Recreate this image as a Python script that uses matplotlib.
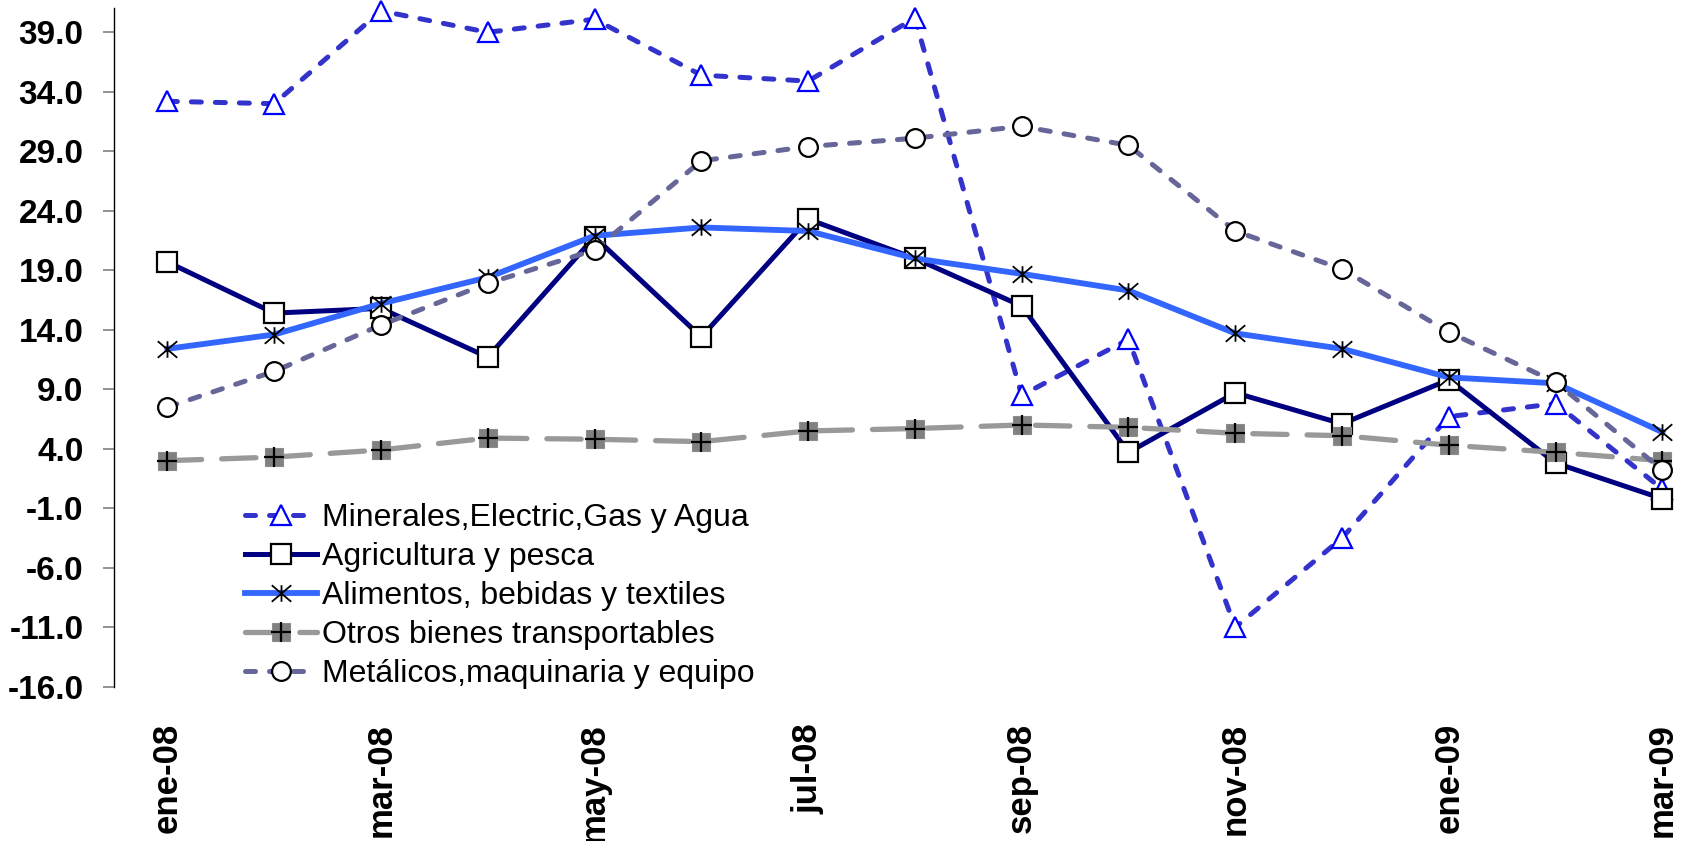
import matplotlib
matplotlib.use("Agg")
import matplotlib.pyplot as plt
from matplotlib.path import Path
from matplotlib.ticker import FormatStrFormatter

# meses (se rotulan uno si, uno no)
meses = ['ene-08', 'feb-08', 'mar-08', 'abr-08', 'may-08', 'jun-08', 'jul-08', 'ago-08',
         'sep-08', 'oct-08', 'nov-08', 'dic-08', 'ene-09', 'feb-09', 'mar-09']

minerales = [33.2, 33.0, 40.8, 39.0, 40.1, 35.4, 34.9, 40.2, 8.5, 13.2, -11.0, -3.5, 6.7, 7.8, 0.6]
agricultura = [19.7, 15.4, 15.8, 11.7, 21.8, 13.4, 23.3, 20.0, 16.0, 3.7, 8.7, 6.1, 9.8, 2.8, -0.2]
alimentos = [12.4, 13.6, 16.2, 18.4, 21.9, 22.6, 22.3, 20.0, 18.7, 17.3, 13.7, 12.4, 10.0, 9.5, 5.4]
otros = [3.0, 3.3, 3.9, 4.9, 4.8, 4.6, 5.5, 5.7, 6.0, 5.8, 5.3, 5.1, 4.3, 3.7, 3.0]
metalicos = [7.5, 10.5, 14.4, 17.9, 20.7, 28.2, 29.4, 30.1, 31.1, 29.5, 22.3, 19.1, 13.8, 9.6, 2.2]

nombres = ['Minerales,Electric,Gas y Agua', 'Agricultura y pesca', 'Alimentos, bebidas y textiles',
           'Otros bienes transportables', 'Metálicos,maquinaria y equipo']

x = list(range(len(meses)))

# marcador tipo asterisco (X con barra vertical), como el de Excel
asterisco = Path([(0, -0.85), (0, 0.85), (-1, -0.85), (1, 0.85), (-1, 0.85), (1, -0.85)],
                 [Path.MOVETO, Path.LINETO] * 3)

fig = plt.figure(figsize=(16.88, 8.41), dpi=100)
ax = fig.add_axes([0.0675, 0.1834, 0.949, 0.8065])

l1, = ax.plot(x, minerales, color='#3333CC', lw=3.6, linestyle=(0, (2.0, 2.8)),
              dash_capstyle='round', marker='^', ms=14, mfc='white', mec='#0000FF', mew=1.6,
              clip_on=False, zorder=3)
l2, = ax.plot(x, agricultura, color='#000080', lw=3.6, marker='s', ms=14, mfc='white',
              mec='black', mew=1.6, clip_on=False, zorder=3)
l3, = ax.plot(x, alimentos, color='#3366FF', lw=4.2, marker=asterisco, ms=14, mfc='none',
              mec='black', mew=1.3, clip_on=False, zorder=3)
l4, = ax.plot(x, otros, color='#999999', lw=3.8, linestyle=(0, (6.5, 3.8)), dash_capstyle='round',
              clip_on=False, zorder=3)
l4b, = ax.plot(x, otros, linestyle='none', marker='s', ms=13, mfc='#808080', mec='#8c8c8c',
               mew=0.8, clip_on=False, zorder=3)
l4c, = ax.plot(x, otros, linestyle='none', marker='+', ms=15, mec='black', mew=1.6,
               clip_on=False, zorder=3)
l5, = ax.plot(x, metalicos, color='#666699', lw=3.6, linestyle=(0, (2.0, 2.8)),
              dash_capstyle='round', marker='o', ms=13.5, mfc='white', mec='black', mew=1.6,
              clip_on=False, zorder=3)

ax.set_xlim(-0.5, 14.5)
ax.set_ylim(-16, 41)

ax.set_yticks(range(-16, 40, 5))
ax.yaxis.set_major_formatter(FormatStrFormatter('%.1f'))
ax.tick_params(axis='y', direction='out', length=8, width=1.2, color='#808080', pad=14)
for t in ax.get_yticklabels():
    t.set_fontfamily('Liberation Sans')
    t.set_fontweight('bold')
    t.set_fontsize(24)

ax.set_xticks(x[::2])
ax.set_xticklabels(meses[::2], rotation=90, fontsize=25, fontweight='bold',
                   fontfamily='Liberation Sans')
ax.tick_params(axis='x', length=0, pad=26)

for lado in ['top', 'right', 'bottom']:
    ax.spines[lado].set_visible(False)
ax.spines['left'].set_color('black')
ax.spines['left'].set_linewidth(1)

leg = fig.legend([l1, l2, l3, (l4, l4b, l4c), l5], nombres, loc='upper left',
                 bbox_to_anchor=(0.145, 0.402), frameon=False, borderpad=0, borderaxespad=0,
                 handlelength=2.26, handletextpad=0.17, labelspacing=0.28,
                 prop={'family': 'Liberation Sans', 'size': 23})

fig.savefig('out.png', dpi=100)
